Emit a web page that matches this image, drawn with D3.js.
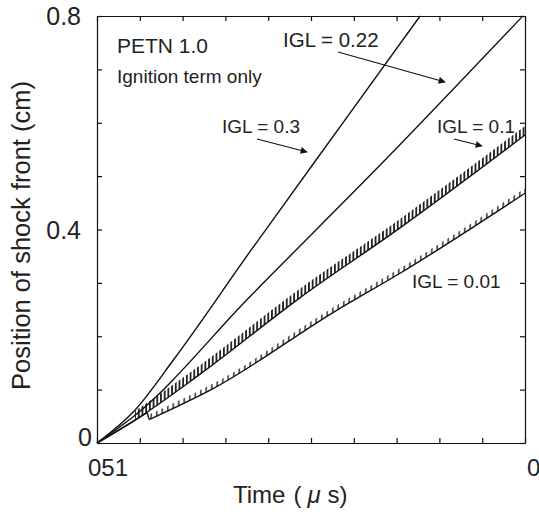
<!DOCTYPE html>
<html>
<head>
<meta charset="utf-8">
<script src="https://cdn.jsdelivr.net/npm/d3@7"></script>
<style>
  body { margin: 0; background: #fff; }
  text { font-family: "Liberation Sans", Arial, sans-serif; fill: #222; }
</style>
</head>
<body>
<div id="chart"></div>
<script>
// chart values
const time03 = [0, 0.089, 0.178, 0.357, 0.591, 0.755];
const pos03 = [0, 0.062, 0.155, 0.358, 0.618, 0.800];
const time022 = [0, 0.089, 0.357, 0.673, 0.995];
const pos022 = [0, 0.052, 0.274, 0.530, 0.800];
const time01 = [0, 0.089, 0.241, 0.474, 0.708, 1.0];
const pos01 = [0, 0.043, 0.129, 0.272, 0.403, 0.577];
const time001 = [0, 0.089, 0.117, 0.122, 0.269, 0.561, 0.708, 1.0];
const pos001 = [0, 0.043, 0.057, 0.044, 0.101, 0.249, 0.318, 0.468];
const igl = ["IGL = 0.3", "IGL = 0.22", "IGL = 0.1", "IGL = 0.01"];
const yTickLabels = ["0", "0.4", "0.8"];
const xTickLabels = ["051", "0"];

// Set dimensions
const width = 539;
const height = 517;
const mLeft = 97, mRight = 525, mTop = 16, mBottom = 443;

const svg = d3.select("#chart")
  .append("svg")
  .attr("width", width)
  .attr("height", height);

const x = d3.scaleLinear().domain([0, 1]).range([mLeft, mRight]);
const y = d3.scaleLinear().domain([0, 0.8]).range([mBottom, mTop]);

// hatch patterns for the oscillating curves
const defs = svg.append("defs");
function hatch(id, step, sw) {
  const p = defs.append("pattern")
    .attr("id", id)
    .attr("patternUnits", "userSpaceOnUse")
    .attr("width", step)
    .attr("height", 20);
  p.append("line")
    .attr("x1", step / 2).attr("x2", step / 2)
    .attr("y1", 0).attr("y2", 20)
    .attr("stroke", "#111")
    .attr("stroke-width", sw);
}
hatch("h1", 3.7, 1.7);
hatch("h2", 5.5, 1.3);

defs.append("marker")
  .attr("id", "arrow")
  .attr("viewBox", "0 0 10 10")
  .attr("refX", 9).attr("refY", 5)
  .attr("markerWidth", 9).attr("markerHeight", 7)
  .attr("markerUnits", "userSpaceOnUse")
  .attr("orient", "auto")
  .append("path")
  .attr("d", "M0,0L10,5L0,10z")
  .attr("fill", "#111");

// axes: ticks point inwards on all four sides
const ticks = d3.range(0, 1.0001, 0.1);
const yticks = d3.range(0, 0.8001, 0.1);
svg.append("g").attr("transform", `translate(0,${mBottom})`)
  .call(d3.axisBottom(x).tickValues(ticks).tickSizeInner(-5).tickSizeOuter(0).tickFormat(""));
svg.append("g").attr("transform", `translate(0,${mTop})`)
  .call(d3.axisTop(x).tickValues(ticks).tickSizeInner(-5).tickSizeOuter(0).tickFormat(""));
svg.append("g").attr("transform", `translate(${mLeft},0)`)
  .call(d3.axisLeft(y).tickValues(yticks).tickSizeInner(-5).tickSizeOuter(0).tickFormat(""));
svg.append("g").attr("transform", `translate(${mRight},0)`)
  .call(d3.axisRight(y).tickValues(yticks).tickSizeInner(-5).tickSizeOuter(0).tickFormat(""));
svg.selectAll(".domain, .tick line").attr("stroke", "#111").attr("stroke-width", 1.2);

// tick labels (the "0" at the origin sits closer to the axis)
svg.selectAll("text.ylab")
  .data(yTickLabels)
  .enter()
  .append("text")
  .attr("class", "ylab")
  .attr("x", d => d === "0" ? mLeft - 5 : mLeft - 16)
  .attr("y", d => d === "0" ? y(0) + 3 : y(+d) + 9)
  .attr("text-anchor", "end")
  .style("font-size", "25px")
  .text(d => d);

svg.append("text")
  .attr("x", x(0) - 9)
  .attr("y", mBottom + 33)
  .style("font-size", "24px")
  .text(xTickLabels[0]);
svg.append("text")
  .attr("x", x(1) + 2)
  .attr("y", mBottom + 33)
  .style("font-size", "24px")
  .text(xTickLabels[1]);

// axis titles
const xt = svg.append("text")
  .attr("x", 233)
  .attr("y", 503)
  .style("font-size", "24px");
xt.append("tspan").text("Time");
xt.append("tspan").attr("dx", 8).text("(");
xt.append("tspan").attr("dx", 6).style("font-style", "italic").text("\u03bc");
xt.append("tspan").attr("dx", 7).text("s)");

svg.append("text")
  .attr("transform", `translate(30,${(mTop + mBottom) / 2 + 6}) rotate(-90)`)
  .attr("text-anchor", "middle")
  .style("font-size", "25.5px")
  .text("Position of shock front (cm)");

// curves
const curve = d3.line().x(d => x(d[0])).y(d => y(d[1])).curve(d3.curveMonotoneX);
const straight = d3.line().x(d => x(d[0])).y(d => y(d[1]));
const area = amp => d3.area().x(d => x(d[0])).y0(d => y(d[1])).y1(d => y(d[1]) - amp).curve(d3.curveMonotoneX);

const s03 = d3.zip(time03, pos03);
const s022 = d3.zip(time022, pos022);
const s01 = d3.zip(time01, pos01);
const s001 = d3.zip(time001, pos001);

svg.append("path").datum(s01.slice(1)).attr("d", area(9)).attr("fill", "url(#h1)");
svg.append("path").datum(s001.slice(3)).attr("d", area(5)).attr("fill", "url(#h2)");

// IGL = 0.01 has a step where it leaves the bundle, drawn in three pieces
const pieces = [
  [s03, curve], [s022, curve], [s01, curve],
  [s001.slice(0, 3), curve], [s001.slice(2, 4), straight], [s001.slice(3), curve]
];
pieces.forEach(([s, gen]) => {
  svg.append("path")
    .datum(s)
    .attr("fill", "none")
    .attr("stroke", "#111")
    .attr("stroke-width", 1.4)
    .attr("d", gen);
});

// annotations
svg.append("text").attr("x", 117).attr("y", 53).style("font-size", "21px").text("PETN 1.0");
svg.append("text").attr("x", 117).attr("y", 83).style("font-size", "19px").text("Ignition term only");

const notes = [
  { t: igl[0], tx: 222, ty: 133, fs: 19, a: [257, 139, 307, 152] },
  { t: igl[1], tx: 283, ty: 47, fs: 20.5, a: [338, 52, 445, 82] },
  { t: igl[2], tx: 437, ty: 133, fs: 19, a: [454, 139, 482, 146] },
  { t: igl[3], tx: 412, ty: 288, fs: 19, a: null }
];
notes.forEach(n => {
  svg.append("text").attr("x", n.tx).attr("y", n.ty).style("font-size", n.fs + "px").text(n.t);
  if (n.a) {
    svg.append("line")
      .attr("x1", n.a[0]).attr("y1", n.a[1])
      .attr("x2", n.a[2]).attr("y2", n.a[3])
      .attr("stroke", "#111")
      .attr("stroke-width", 1.2)
      .attr("marker-end", "url(#arrow)");
  }
});
</script>
</body>
</html>
